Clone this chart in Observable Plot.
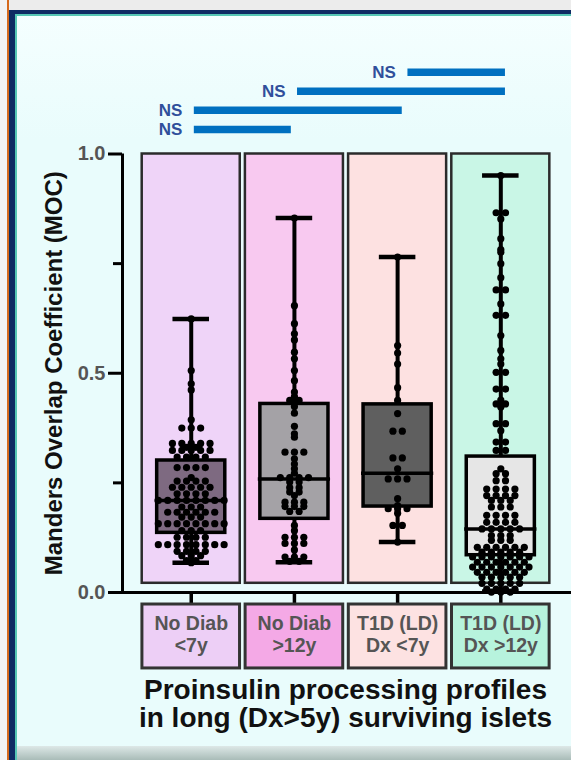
<!DOCTYPE html>
<html><head><meta charset="utf-8">
<script src="https://cdn.jsdelivr.net/npm/d3@7"></script>
<script src="https://cdn.jsdelivr.net/npm/@observablehq/plot@0.6"></script>
<style>
body{margin:0;}
#page{position:relative;width:571px;height:760px;overflow:hidden;background:linear-gradient(#f6ffff,#e9fcfc 140px);font-family:"Liberation Sans",Arial,sans-serif;}
.deco{position:absolute;}
#chart{position:absolute;left:0;top:0;}
</style></head><body>
<div id="page">
 <div class="deco" style="left:0;top:0;width:571px;height:10px;background:#ececec"></div>
 <div class="deco" style="left:0;top:10px;width:571px;height:4px;background:#0f2b63"></div>
 <div class="deco" style="left:0;top:14px;width:571px;height:2px;background:#56c6b4"></div>
 <div class="deco" style="left:0;top:0;width:7px;height:760px;background:#f2f2f2"></div>
 <div class="deco" style="left:7px;top:0;width:2px;height:760px;background:#d5691c"></div>
 <div class="deco" style="left:9px;top:10px;width:6px;height:750px;background:#0f2b63"></div>
 <div class="deco" style="left:15px;top:14px;width:2px;height:746px;background:#56c6b4"></div>
 <div class="deco" style="left:17px;top:746px;width:554px;height:14px;background:linear-gradient(#dde8e7,#a9bcb8)"></div>
 <div id="chart"></div>
</div>
<script>
// ---- data ----
const groups = ["No Diab\n<7y", "No Diab\n>12y", "T1D (LD)\nDx <7y", "T1D (LD)\nDx >12y"];

// [MOC value, number of points at that value]
const noDiabLt7 = [[0.624,1],[0.506,1],[0.476,1],[0.462,1],[0.394,1],[0.375,3],[0.340,5],[0.331,2],[0.324,5],[0.309,4],[0.285,4],[0.262,1],[0.254,4],[0.240,5],[0.225,4],[0.210,8],[0.195,3],[0.183,6],[0.172,3],[0.157,8],[0.141,3],[0.126,4],[0.109,8],[0.094,4],[0.084,3],[0.073,2],[0.068,1]];
const noDiabGt12 = [[0.854,1],[0.654,1],[0.613,1],[0.590,1],[0.576,1],[0.548,1],[0.533,1],[0.506,1],[0.483,1],[0.457,1],[0.447,1],[0.438,2],[0.424,1],[0.409,1],[0.379,1],[0.362,1],[0.354,1],[0.320,3],[0.305,1],[0.293,1],[0.282,1],[0.272,1],[0.262,4],[0.252,2],[0.239,2],[0.229,2],[0.221,1],[0.206,3],[0.196,3],[0.185,2],[0.153,1],[0.141,1],[0.126,3],[0.112,3],[0.097,1],[0.081,3],[0.071,2]];
const t1dLt7 = [[0.765,1],[0.563,1],[0.546,1],[0.521,1],[0.467,1],[0.438,1],[0.408,1],[0.368,2],[0.307,2],[0.282,1],[0.259,3],[0.214,1],[0.198,1],[0.191,3],[0.181,1],[0.153,2],[0.115,1]];
const t1dGt12 = [[0.951,1],[0.866,2],[0.852,1],[0.807,1],[0.782,1],[0.776,1],[0.750,1],[0.718,1],[0.690,2],[0.658,1],[0.632,2],[0.586,1],[0.552,1],[0.533,1],[0.521,1],[0.502,2],[0.464,2],[0.439,1],[0.430,2],[0.423,1],[0.385,2],[0.369,1],[0.343,2],[0.324,2],[0.282,1],[0.271,2],[0.255,2],[0.236,4],[0.221,4],[0.210,3],[0.195,3],[0.176,4],[0.160,4],[0.145,5],[0.130,3],[0.119,3],[0.103,6],[0.092,5],[0.081,7],[0.069,6],[0.058,7],[0.046,6],[0.035,5],[0.021,5],[0.008,4],[0.001,3]];

// box-and-whisker summary
const boxMin    = [0.068, 0.069, 0.115, 0.002];
const boxQ1     = [0.136, 0.168, 0.196, 0.085];
const boxMedian = [0.210, 0.259, 0.272, 0.145];
const boxQ3     = [0.301, 0.430, 0.429, 0.310];
const boxMax    = [0.624, 0.854, 0.765, 0.951];

const yTicks = [0, 0.5, 1.0];
const yMinorTicks = [0.25, 0.75];

const comparisons = [
  {from: 3, to: 4, label: "NS", level: 3},
  {from: 2, to: 4, label: "NS", level: 2},
  {from: 1, to: 3, label: "NS", level: 1},
  {from: 1, to: 2, label: "NS", level: 0}
];

const yTitle = "Manders Overlap Coefficient (MOC)";
const xTitle = "Proinsulin processing profiles\nin long (Dx>5y) surviving islets";

// ---- styles ----
const panelFill = ["#efd4f8", "#f8c9f0", "#fde1e1", "#c9f6e6"];
const labelFill = ["#edcff6", "#f4a9e6", "#fde2e2", "#b7f3dd"];
const boxFill   = ["#7e6a81", "#a4a2a6", "#5f5f5f", "#e6e6e6"];

// ---- layout ----
const X0 = 0.334, X1 = 4.685;       // x domain (group index units)
const pxPerX = 103.2;               // pixels per group step
const dotGap = 9.4;                 // horizontal spacing between dots in a row (px)

const stats = groups.map((g, k) => ({
  i: k + 1, lo: boxMin[k], q1: boxQ1[k], med: boxMedian[k], q3: boxQ3[k], hi: boxMax[k]
}));

const series = [noDiabLt7, noDiabGt12, t1dLt7, t1dGt12];
const points = [];
series.forEach((rows, gi) => rows.forEach(([v, n]) => {
  for (let k = 0; k < n; k++) points.push({g: gi + 1, v, off: (k - (n - 1) / 2) * dotGap});
}));

const barY = d => 1.056 + d.level * 0.0435;
const barStart = d => d.from + (d.level === 3 ? 0.1 : 0.03);
const barEnd = d => d.to + (d.level === 0 ? -0.03 : 0.045);

const chart = Plot.plot({
  width: 571, height: 760,
  marginLeft: 122, marginRight: 0, marginTop: 153.5, marginBottom: 168,
  x: {domain: [X0, X1], axis: null},
  y: {domain: [0, 1], axis: null},
  color: {type: "identity"},
  style: {background: "transparent", overflow: "visible", fontFamily: "Liberation Sans, Arial, sans-serif"},
  marks: [
    // coloured background panels
    Plot.rect(stats, {x1: d => d.i - 0.475, x2: d => d.i + 0.475, y1: 0.021, y2: 1.0,
      fill: d => panelFill[d.i - 1], stroke: "#2b2b2b", strokeWidth: 2.5}),
    // whiskers
    Plot.ruleX(stats, {x: "i", y1: "lo", y2: "hi", stroke: "#000", strokeWidth: 4}),
    Plot.ruleY(stats, {x1: d => d.i - 0.177, x2: d => d.i + 0.177, y: "hi", stroke: "#000", strokeWidth: 4.5}),
    Plot.ruleY(stats, {x1: d => d.i - 0.177, x2: d => d.i + 0.177, y: "lo", stroke: "#000", strokeWidth: 4.5}),
    // boxes
    Plot.rect(stats, {x1: d => d.i - 0.33, x2: d => d.i + 0.33, y1: "q1", y2: "q3",
      fill: d => boxFill[d.i - 1], stroke: "#000", strokeWidth: 3.5}),
    Plot.ruleY(stats, {x1: d => d.i - 0.35, x2: d => d.i + 0.35, y: "med", stroke: "#000", strokeWidth: 3.5}),
    // axes
    Plot.ruleX([X0], {y1: 0, y2: 1, stroke: "#000", strokeWidth: 3}),
    Plot.ruleY([0], {stroke: "#000", strokeWidth: 3}),
    Plot.axisY({ticks: yTicks, tickSize: 14, tickPadding: 3, tickFormat: d3.format(".1f"),
      fontSize: 20, fontWeight: "bold", stroke: "#000", fill: "#555", strokeWidth: 3, label: null}),
    Plot.axisY({ticks: yMinorTicks, tickSize: 9, tickFormat: () => "", stroke: "#000", strokeWidth: 3, label: null}),
    Plot.axisX({ticks: [1, 2, 3, 4], tickSize: 13, tickFormat: () => "", stroke: "#000", strokeWidth: 3.5, label: null}),
    // data points
    Plot.dot(points, {x: d => d.g + d.off / pxPerX, y: "v", r: 3.6, fill: "#000"}),
    // group label boxes
    Plot.rect(stats, {x1: d => d.i - 0.473, x2: d => d.i + 0.473, y1: -0.0274, y2: -0.1732,
      fill: d => labelFill[d.i - 1], stroke: "#333", strokeWidth: 3}),
    Plot.text(stats, {x: "i", y: -0.0953, text: d => groups[d.i - 1], fontSize: 19.5, fontWeight: "bold",
      fill: "#555", lineHeight: 1.13}),
    // significance bars
    Plot.ruleY(comparisons, {x1: barStart, x2: barEnd, y: barY, stroke: "#0070c0", strokeWidth: 7.5}),
    Plot.text(comparisons, {x: barStart, y: barY, text: "label", dx: -12, textAnchor: "end",
      fontSize: 17, fontWeight: "bold", fill: "#2f4f9b"}),
    // titles
    Plot.text([yTitle], {frameAnchor: "left", dx: -68, rotate: -90, textAnchor: "middle", lineAnchor: "middle",
      fontSize: 24, fontWeight: "bold", fill: "#111"}),
    Plot.text([xTitle], {frameAnchor: "bottom", dx: -1.5, dy: 112, textAnchor: "middle", lineAnchor: "middle",
      fontSize: 28, fontWeight: "bold", fill: "#111", lineHeight: 1.0})
  ]
});
document.getElementById("chart").appendChild(chart);
</script>
</body></html>
